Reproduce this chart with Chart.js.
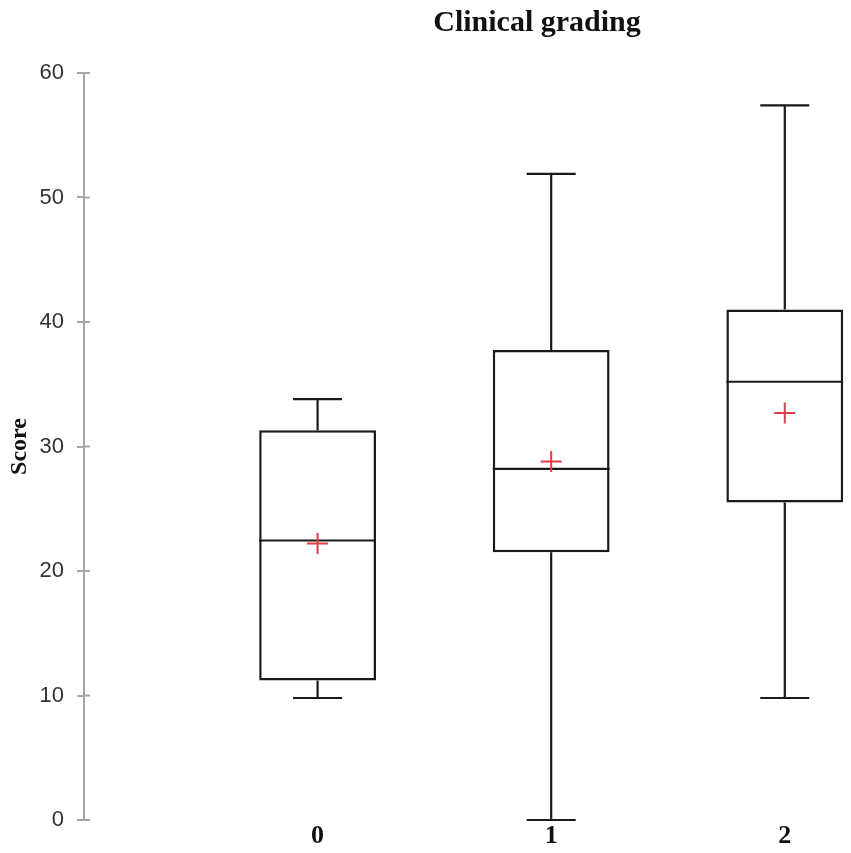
<!DOCTYPE html>
<html>
<head>
<meta charset="utf-8">
<script src="https://cdn.jsdelivr.net/npm/chart.js@4/dist/chart.umd.min.js"></script>
<style>
  html, body { margin: 0; padding: 0; background: #fff; overflow: hidden; }
  #wrap { width: 851px; height: 853px; }
  canvas { display: block; }
</style>
</head>
<body>
<div id="wrap"><canvas id="boxChart"></canvas></div>
<script>
// Data untuk grafik
const categories = ['0', '1', '2'];
const whiskerLow = [9.8, 0, 9.8];
const q1 = [11.2, 21.5, 25.5];
const median = [22.45, 28.2, 35.2];
const q3 = [31.3, 37.75, 41.0];
const whiskerHigh = [33.8, 51.9, 57.4];
const means = [22.2, 28.8, 32.7];

const serif = "'Liberation Serif', 'Times New Roman', serif";

// whiskers, caps, median lines (drawn right after the boxes)
const boxExtras = {
  id: 'boxExtras',
  afterDatasetDraw(chart, args) {
    if (args.index !== 1) return;
    const ctx = chart.ctx;
    const x = chart.scales.x, y = chart.scales.y;
    const bars = chart.getDatasetMeta(1).data;
    ctx.save();
    ctx.strokeStyle = '#1a1a1a';
    ctx.lineWidth = 2.2;
    categories.forEach((c, i) => {
      const cx = x.getPixelForValue(i);
      const capHalf = x.getPixelForValue(i + 0.105) - cx;
      const half = bars[i].width / 2;
      ctx.beginPath();
      // upper whisker
      ctx.moveTo(cx, y.getPixelForValue(q3[i]));
      ctx.lineTo(cx, y.getPixelForValue(whiskerHigh[i]));
      ctx.moveTo(cx - capHalf, y.getPixelForValue(whiskerHigh[i]));
      ctx.lineTo(cx + capHalf, y.getPixelForValue(whiskerHigh[i]));
      // lower whisker
      ctx.moveTo(cx, y.getPixelForValue(q1[i]));
      ctx.lineTo(cx, y.getPixelForValue(whiskerLow[i]));
      ctx.moveTo(cx - capHalf, y.getPixelForValue(whiskerLow[i]));
      ctx.lineTo(cx + capHalf, y.getPixelForValue(whiskerLow[i]));
      // median
      ctx.moveTo(cx - half, y.getPixelForValue(median[i]));
      ctx.lineTo(cx + half, y.getPixelForValue(median[i]));
      ctx.stroke();
    });
    ctx.restore();
  },
  afterDraw(chart) {
    const ctx = chart.ctx;
    const y = chart.scales.y;
    const left = chart.chartArea.left;
    ctx.save();
    // small tick stubs on the inner side of the axis
    ctx.strokeStyle = '#a6a6a6';
    ctx.lineWidth = 2;
    y.ticks.forEach(t => {
      const py = y.getPixelForValue(t.value);
      ctx.beginPath();
      ctx.moveTo(left, py);
      ctx.lineTo(left + 6, py);
      ctx.stroke();
    });
    // title
    ctx.fillStyle = '#111';
    ctx.font = 'bold 30px ' + serif;
    ctx.textAlign = 'center';
    ctx.textBaseline = 'alphabetic';
    ctx.fillText('Clinical grading', 537, 31);
    ctx.restore();
  }
};

const ctx = document.getElementById('boxChart').getContext('2d');
const boxChart = new Chart(ctx, {
  type: 'bar',
  plugins: [boxExtras],
  data: {
    datasets: [
      {
        type: 'scatter',
        label: 'Mean',
        data: means.map((m, i) => ({ x: i, y: m })),
        pointStyle: 'cross',
        pointRadius: 10.5,
        borderColor: '#e33b46',
        borderWidth: 2,
        clip: false,
        order: 1
      },
      {
        type: 'bar',
        label: 'Score',
        data: q1.map((v, i) => ({ x: i, y: [v, q3[i]] })),
        backgroundColor: '#ffffff',
        borderColor: '#1a1a1a',
        borderWidth: 2.5,
        borderSkipped: false,
        barPercentage: 1,
        categoryPercentage: 0.5,
        clip: false,
        order: 2
      }
    ]
  },
  options: {
    responsive: true,
    maintainAspectRatio: false,
    animation: false,
    layout: { padding: { top: 73, left: 0, right: 0, bottom: 0 } },
    plugins: {
      legend: { display: false },
      tooltip: { enabled: false },
      title: { display: false }
    },
    scales: {
      x: {
        type: 'linear',
        min: -1,
        max: 2.23,
        offset: false,
        grid: { display: false },
        border: { display: false },
        afterBuildTicks: (scale) => {
          scale.ticks = categories.map((c, i) => ({ value: i }));
        },
        afterFit: (scale) => { scale.height = 33; },
        ticks: {
          padding: -7,
          color: '#111',
          font: { family: serif, size: 26, weight: 'bold' },
          callback: (v) => categories[v]
        }
      },
      y: {
        min: 0,
        max: 60,
        afterFit: (scale) => { scale.width = 84; },
        title: {
          display: true,
          text: 'Score',
          color: '#111',
          padding: { top: 5, bottom: 0 },
          font: { family: serif, size: 24, weight: 'bold' }
        },
        grid: {
          drawOnChartArea: false,
          drawTicks: true,
          tickLength: 7,
          color: '#a6a6a6',
          lineWidth: 2
        },
        border: { color: '#a6a6a6', width: 2 },
        ticks: {
          stepSize: 10,
          padding: 13,
          color: '#333',
          font: { family: "'Liberation Sans', Arial, sans-serif", size: 22 }
        }
      }
    }
  }
});
</script>
</body>
</html>
